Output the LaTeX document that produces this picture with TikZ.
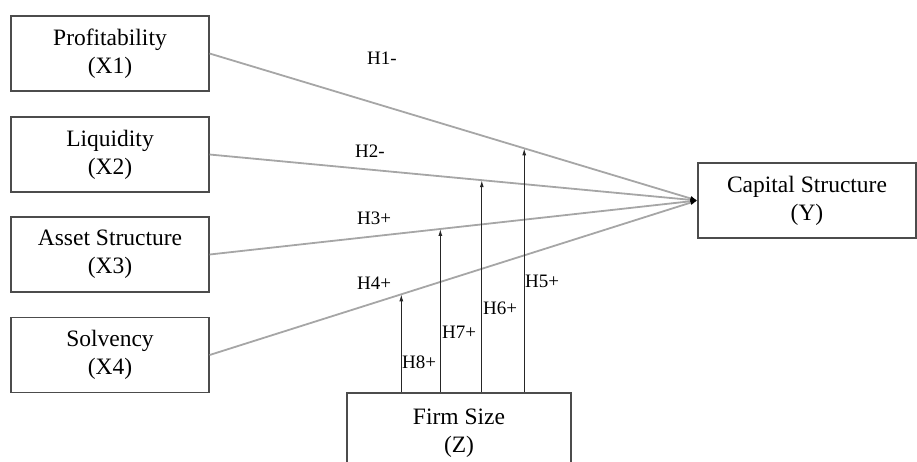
\documentclass[tikz,border=0pt]{standalone}
\usepackage{fontspec}
\setmainfont{Liberation Serif}
\usetikzlibrary{arrows.meta,calc}

\tikzset{
  varbox/.style={draw=black!70, line width=1.2pt, minimum width=198pt, minimum height=75pt,
    align=center, inner sep=0pt, font=\fontsize{23.5}{28}\selectfont},
  effect/.style={draw=black!35, line width=1.8pt, -{Latex[length=7pt,width=5pt,color=black]}},
  modline/.style={draw=black!85, line width=1.1pt, -{Latex[length=7pt,width=4pt]}},
  hyp/.style={font=\fontsize{19}{22}\selectfont, inner sep=0pt}
}

\begin{document}
\begin{tikzpicture}[x=1pt,y=-1pt]

        \useasboundingbox (0,0) rectangle (917,461);
        \clip (0,0) rectangle (917,461);

        % variables independientes
        \node[varbox] (x1) at (110,53.5) {Profitability\\(X1)};
        \node[varbox] (x2) at (110,154.5) {Liquidity\\(X2)};
        \node[varbox] (x3) at (110,254.5) {Asset Structure\\(X3)};
        \node[varbox] (x4) at (110,355) {Solvency\\(X4)};

        % dependiente y moderadora
        \node[varbox, minimum width=218pt] (y) at (807,200.5) {Capital Structure\\(Y)};
        \node[varbox, minimum width=224pt, minimum height=80pt] (z) at (459,433) {Firm Size\\(Z)};

        % efectos directos
        \draw[effect] (x1.east) -- (y.west);
        \draw[effect] (x2.east) -- (y.west);
        \draw[effect] (x3.east) -- (y.west);
        \draw[effect] (x4.east) -- (y.west);

        % puntos de moderacion
        \coordinate (m1) at ($(x1.east)!0.645!(y.west)$);
        \coordinate (m2) at ($(x2.east)!0.558!(y.west)$);
        \coordinate (m3) at ($(x3.east)!0.473!(y.west)$);
        \coordinate (m4) at ($(x4.east)!0.393!(y.west)$);

        \draw[modline] (z.north -| m1) -- (m1);
        \draw[modline] (z.north -| m2) -- (m2);
        \draw[modline] (z.north -| m3) -- (m3);
        \draw[modline] (z.north -| m4) -- (m4);

        % hipotesis
        \node[hyp] (h1) at (382,58) {H1-};
        \node[hyp] (h2) at (370,151) {H2-};
        \node[hyp] (h3) at (374,218) {H3+};
        \node[hyp] (h4) at (374,283) {H4+};
        \node[hyp] (h5) at (542,281) {H5+};
        \node[hyp] (h6) at (500,308) {H6+};
        \node[hyp] (h7) at (459,332) {H7+};
        \node[hyp] (h8) at (419,362) {H8+};

\end{tikzpicture}
\end{document}
